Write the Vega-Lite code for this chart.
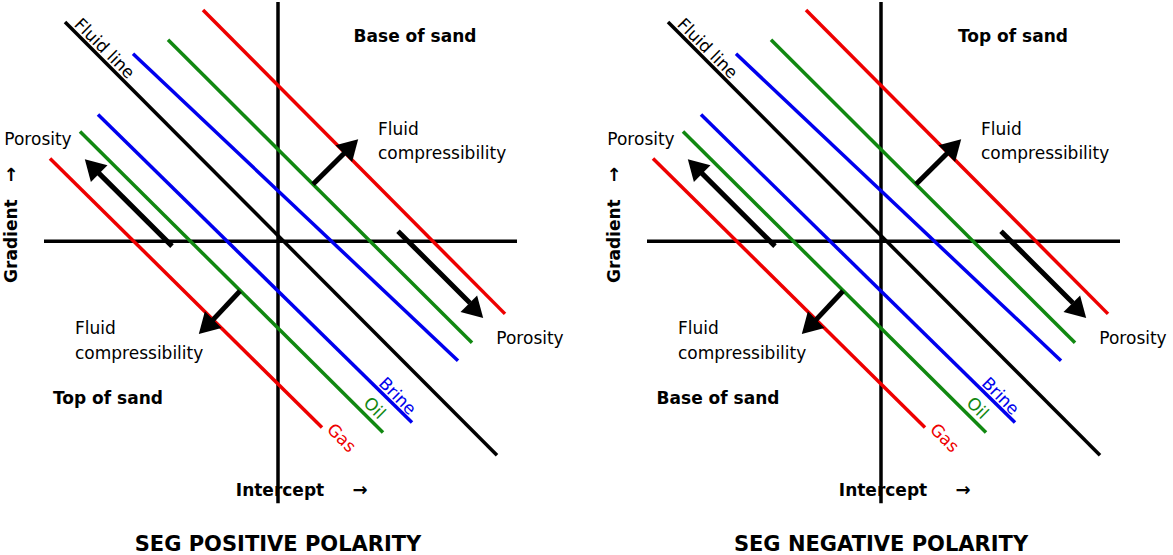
{
  "$schema": "https://vega.github.io/schema/vega-lite/v6.json",
  "width": 1173,
  "height": 555,
  "padding": 0,
  "autosize": {"type": "fit", "contains": "padding"},
  "config": {"view": {"stroke": null}, "font": "DejaVu Sans"},
  "datasets": {
    "lines": [
      {"s": "axis", "x": 44, "y": 240, "x2": 517, "y2": 240},
      {"s": "axis", "x": 278, "y": 0, "x2": 278, "y2": 503},
      {"s": "axis", "x": 65, "y": 20, "x2": 497, "y2": 455},
      {"s": "gas", "x": 203, "y": 8, "x2": 505, "y2": 313},
      {"s": "oil", "x": 168, "y": 38, "x2": 472, "y2": 342},
      {"s": "brine", "x": 133, "y": 52, "x2": 458, "y2": 360},
      {"s": "brine", "x": 98, "y": 113, "x2": 412, "y2": 422},
      {"s": "oil", "x": 80, "y": 130, "x2": 383, "y2": 432},
      {"s": "gas", "x": 50, "y": 157, "x2": 322, "y2": 427},
      {"s": "axis", "x": 647, "y": 240, "x2": 1120, "y2": 240},
      {"s": "axis", "x": 881, "y": 0, "x2": 881, "y2": 503},
      {"s": "axis", "x": 668, "y": 20, "x2": 1100, "y2": 455},
      {"s": "gas", "x": 806, "y": 8, "x2": 1108, "y2": 313},
      {"s": "oil", "x": 771, "y": 38, "x2": 1075, "y2": 342},
      {"s": "brine", "x": 736, "y": 52, "x2": 1061, "y2": 360},
      {"s": "brine", "x": 701, "y": 113, "x2": 1015, "y2": 422},
      {"s": "oil", "x": 683, "y": 130, "x2": 986, "y2": 432},
      {"s": "gas", "x": 653, "y": 157, "x2": 925, "y2": 427}
    ],
    "arrows": [
      {"x": 172, "y": 245, "x2": 98, "y2": 171, "hx": 92, "hy": 165, "a": 315},
      {"x": 313, "y": 183, "x2": 345, "y2": 151, "hx": 351, "hy": 145, "a": 45},
      {"x": 398, "y": 230, "x2": 470, "y2": 302, "hx": 476, "hy": 310, "a": 135},
      {"x": 240, "y": 290, "x2": 212, "y2": 320, "hx": 206, "hy": 326, "a": 225},
      {"x": 775, "y": 245, "x2": 701, "y2": 171, "hx": 695, "hy": 165, "a": 315},
      {"x": 916, "y": 183, "x2": 948, "y2": 151, "hx": 954, "hy": 145, "a": 45},
      {"x": 1001, "y": 230, "x2": 1073, "y2": 302, "hx": 1079, "hy": 310, "a": 135},
      {"x": 843, "y": 290, "x2": 815, "y2": 320, "hx": 809, "hy": 326, "a": 225}
    ],
    "texts": [
      {"t": "Base of sand", "x": 415, "y": 35, "s": "axis", "a": 0, "b": "bold", "al": "center"},
      {"t": "Top of sand", "x": 108, "y": 398, "s": "axis", "a": 0, "b": "bold", "al": "center"},
      {"t": "Intercept", "x": 280, "y": 491, "s": "axis", "a": 0, "b": "bold", "al": "center"},
      {"t": "Gradient", "x": 12, "y": 240, "s": "axis", "a": 270, "b": "bold", "al": "center"},
      {"t": "Porosity", "x": 38, "y": 138, "s": "axis", "a": 0, "b": "normal", "al": "center"},
      {"t": "Porosity", "x": 530, "y": 338, "s": "axis", "a": 0, "b": "normal", "al": "center"},
      {"t": "Fluid", "x": 378, "y": 128, "s": "axis", "a": 0, "b": "normal", "al": "left"},
      {"t": "compressibility", "x": 378, "y": 153, "s": "axis", "a": 0, "b": "normal", "al": "left"},
      {"t": "Fluid", "x": 75, "y": 328, "s": "axis", "a": 0, "b": "normal", "al": "left"},
      {"t": "compressibility", "x": 75, "y": 353, "s": "axis", "a": 0, "b": "normal", "al": "left"},
      {"t": "Fluid line", "x": 104, "y": 47, "s": "axis", "a": 45, "b": "normal", "al": "center"},
      {"t": "Brine", "x": 397, "y": 396, "s": "brine", "a": 45, "b": "normal", "al": "center"},
      {"t": "Oil", "x": 374, "y": 408, "s": "oil", "a": 45, "b": "normal", "al": "center"},
      {"t": "Gas", "x": 341, "y": 438, "s": "gas", "a": 45, "b": "normal", "al": "center"},
      {"t": "Top of sand", "x": 1013, "y": 35, "s": "axis", "a": 0, "b": "bold", "al": "center"},
      {"t": "Base of sand", "x": 718, "y": 398, "s": "axis", "a": 0, "b": "bold", "al": "center"},
      {"t": "Intercept", "x": 883, "y": 491, "s": "axis", "a": 0, "b": "bold", "al": "center"},
      {"t": "Gradient", "x": 615, "y": 240, "s": "axis", "a": 270, "b": "bold", "al": "center"},
      {"t": "Porosity", "x": 641, "y": 138, "s": "axis", "a": 0, "b": "normal", "al": "center"},
      {"t": "Porosity", "x": 1133, "y": 338, "s": "axis", "a": 0, "b": "normal", "al": "center"},
      {"t": "Fluid", "x": 981, "y": 128, "s": "axis", "a": 0, "b": "normal", "al": "left"},
      {"t": "compressibility", "x": 981, "y": 153, "s": "axis", "a": 0, "b": "normal", "al": "left"},
      {"t": "Fluid", "x": 678, "y": 328, "s": "axis", "a": 0, "b": "normal", "al": "left"},
      {"t": "compressibility", "x": 678, "y": 353, "s": "axis", "a": 0, "b": "normal", "al": "left"},
      {"t": "Fluid line", "x": 707, "y": 47, "s": "axis", "a": 45, "b": "normal", "al": "center"},
      {"t": "Brine", "x": 1000, "y": 396, "s": "brine", "a": 45, "b": "normal", "al": "center"},
      {"t": "Oil", "x": 977, "y": 408, "s": "oil", "a": 45, "b": "normal", "al": "center"},
      {"t": "Gas", "x": 944, "y": 438, "s": "gas", "a": 45, "b": "normal", "al": "center"}
    ],
    "small": [
      {"t": "→", "x": 360, "y": 491, "a": 0},
      {"t": "→", "x": 12, "y": 173, "a": 270},
      {"t": "→", "x": 963, "y": 491, "a": 0},
      {"t": "→", "x": 615, "y": 173, "a": 270}
    ],
    "titles": [
      {"t": "SEG POSITIVE POLARITY", "x": 278, "y": 545},
      {"t": "SEG NEGATIVE POLARITY", "x": 881, "y": 545}
    ]
  },
  "layer": [
    {
      "data": {"name": "lines"},
      "mark": {"type": "rule", "strokeWidth": 3.5},
      "encoding": {
        "x": {"field": "x", "type": "quantitative", "scale": {"domain": [0, 1173], "nice": false, "zero": false}, "axis": null},
        "y": {"field": "y", "type": "quantitative", "scale": {"domain": [555, 0], "nice": false, "zero": false}, "axis": null},
        "x2": {"field": "x2"},
        "y2": {"field": "y2"},
        "color": {"field": "s", "type": "nominal", "legend": null,
          "scale": {"domain": ["axis", "gas", "oil", "brine"], "range": ["#000000", "#ee0000", "#118811", "#0000ee"]}}
      }
    },
    {
      "data": {"name": "arrows"},
      "mark": {"type": "rule", "strokeWidth": 5, "color": "black"},
      "encoding": {
        "x": {"field": "x", "type": "quantitative"},
        "y": {"field": "y", "type": "quantitative"},
        "x2": {"field": "x2"},
        "y2": {"field": "y2"}
      }
    },
    {
      "data": {"name": "arrows"},
      "mark": {"type": "point", "shape": "triangle-up", "filled": true, "color": "black", "size": 550, "opacity": 1},
      "encoding": {
        "x": {"field": "hx", "type": "quantitative"},
        "y": {"field": "hy", "type": "quantitative"},
        "angle": {"field": "a", "type": "quantitative", "scale": null}
      }
    },
    {
      "data": {"name": "texts"},
      "transform": [{"filter": "datum.b == 'normal' && datum.al == 'center'"}],
      "mark": {"type": "text", "fontSize": 17, "align": "center", "baseline": "middle"},
      "encoding": {
        "x": {"field": "x", "type": "quantitative"},
        "y": {"field": "y", "type": "quantitative"},
        "text": {"field": "t"},
        "angle": {"field": "a", "type": "quantitative", "scale": null},
        "color": {"field": "s", "type": "nominal", "legend": null}
      }
    },
    {
      "data": {"name": "texts"},
      "transform": [{"filter": "datum.b == 'normal' && datum.al == 'left'"}],
      "mark": {"type": "text", "fontSize": 17, "align": "left", "baseline": "middle", "color": "black"},
      "encoding": {
        "x": {"field": "x", "type": "quantitative"},
        "y": {"field": "y", "type": "quantitative"},
        "text": {"field": "t"}
      }
    },
    {
      "data": {"name": "texts"},
      "transform": [{"filter": "datum.b == 'bold'"}],
      "mark": {"type": "text", "fontSize": 17, "fontWeight": "bold", "align": "center", "baseline": "middle", "color": "black"},
      "encoding": {
        "x": {"field": "x", "type": "quantitative"},
        "y": {"field": "y", "type": "quantitative"},
        "text": {"field": "t"},
        "angle": {"field": "a", "type": "quantitative", "scale": null}
      }
    },
    {
      "data": {"name": "small"},
      "mark": {"type": "text", "fontSize": 18, "fontWeight": "bold", "align": "center", "baseline": "middle", "color": "black"},
      "encoding": {
        "x": {"field": "x", "type": "quantitative"},
        "y": {"field": "y", "type": "quantitative"},
        "text": {"field": "t"},
        "angle": {"field": "a", "type": "quantitative", "scale": null}
      }
    },
    {
      "data": {"name": "titles"},
      "mark": {"type": "text", "fontSize": 21, "fontWeight": "bold", "align": "center", "baseline": "middle", "color": "black"},
      "encoding": {
        "x": {"field": "x", "type": "quantitative"},
        "y": {"field": "y", "type": "quantitative"},
        "text": {"field": "t"}
      }
    }
  ]
}
